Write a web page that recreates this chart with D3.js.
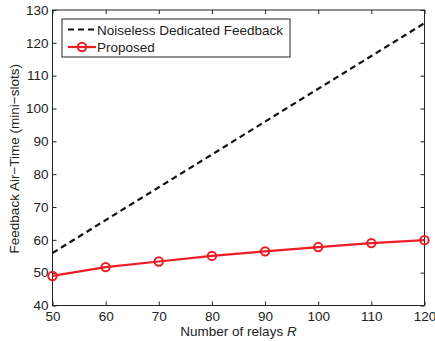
<!DOCTYPE html>
<html>
<head>
<meta charset="utf-8">
<script src="https://cdn.jsdelivr.net/npm/d3@7"></script>
<style>
  body { margin: 0; background: #fff; }
  svg { display: block; font-family: "Liberation Sans", Arial, sans-serif; }
</style>
</head>
<body>
<div id="chart"></div>
<script>
// relay counts on the x axis
const relays = [50, 60, 70, 80, 90, 100, 110, 120];
// noiseless dedicated feedback air-time
const dedicated = [56, 66, 76, 86, 96, 106, 116, 126];
// proposed scheme air-time
const proposed = [49.0, 51.7, 53.4, 55.1, 56.5, 57.8, 59.0, 59.9];

const x_ticks = [50, 60, 70, 80, 90, 100, 110, 120];
const y_ticks = [40, 50, 60, 70, 80, 90, 100, 110, 120, 130];

const svg_width = 435, svg_height = 341;
const margin = {left: 52.5, right: 10.5, top: 10, bottom: 35.5};
const plot_width = svg_width - margin.left - margin.right;
const plot_height = svg_height - margin.top - margin.bottom;
const axes_color = '#222';
const red = '#ee1c24';

const svg = d3.select('#chart').append('svg')
    .attr('width', svg_width)
    .attr('height', svg_height);

const g = svg.append('g')
    .attr('transform', `translate(${margin.left},${margin.top})`);

const x_scale = d3.scaleLinear().domain([50, 120]).range([0, plot_width]);
const y_scale = d3.scaleLinear().domain([40, 130]).range([plot_height, 0]);

// axes with inward ticks, MATLAB box style
const tick_len = 4;
const style_axis = sel => {
    sel.select('.domain').remove();
    sel.selectAll('line').style('stroke', axes_color);
    sel.selectAll('text').style('fill', axes_color).style('font-size', '13.5px')
        .style('font-family', '"Liberation Sans", Arial, sans-serif');
};

g.append('g')
    .attr('transform', `translate(0,${plot_height})`)
    .call(d3.axisBottom(x_scale).tickValues(x_ticks).tickSizeInner(-tick_len).tickSizeOuter(0).tickPadding(5.5))
    .call(style_axis);

g.append('g')
    .call(d3.axisLeft(y_scale).tickValues(y_ticks).tickSizeInner(-tick_len).tickSizeOuter(0).tickPadding(4))
    .call(style_axis);

g.append('g')
    .call(d3.axisTop(x_scale).tickValues(x_ticks).tickSizeInner(-tick_len).tickSizeOuter(0).tickFormat(''))
    .call(style_axis);

g.append('g')
    .attr('transform', `translate(${plot_width},0)`)
    .call(d3.axisRight(y_scale).tickValues(y_ticks).tickSizeInner(-tick_len).tickSizeOuter(0).tickFormat(''))
    .call(style_axis);

g.append('rect')
    .attr('width', plot_width)
    .attr('height', plot_height)
    .attr('fill', 'none')
    .attr('stroke', axes_color)
    .attr('stroke-width', 1);

// lines
const line = d3.line().x(d => x_scale(d[0])).y(d => y_scale(d[1]));

g.append('path')
    .datum(relays.map((r, i) => [r, dedicated[i]]))
    .attr('d', line)
    .attr('fill', 'none')
    .attr('stroke', '#111')
    .attr('stroke-width', 2.2)
    .attr('stroke-dasharray', '6,4');

g.append('path')
    .datum(relays.map((r, i) => [r, proposed[i]]))
    .attr('d', line)
    .attr('fill', 'none')
    .attr('stroke', red)
    .attr('stroke-width', 2.2);

g.selectAll('circle.pt')
    .data(relays.map((r, i) => [r, proposed[i]]))
    .enter()
    .append('circle')
    .attr('class', 'pt')
    .attr('cx', d => x_scale(d[0]))
    .attr('cy', d => y_scale(d[1]))
    .attr('r', 4.2)
    .attr('fill', 'none')
    .attr('stroke', red)
    .attr('stroke-width', 2);

// legend
const legend = svg.append('g').attr('transform', 'translate(62,19)');
legend.append('rect')
    .attr('width', 228)
    .attr('height', 38)
    .attr('fill', '#fff')
    .attr('stroke', axes_color)
    .attr('stroke-width', 1);

legend.append('line')
    .attr('x1', 6).attr('x2', 34).attr('y1', 10.5).attr('y2', 10.5)
    .attr('stroke', '#111').attr('stroke-width', 2.2).attr('stroke-dasharray', '6,4');
legend.append('text')
    .attr('x', 35).attr('y', 15.5)
    .style('font-size', '13.5px').style('fill', axes_color)
    .text('Noiseless Dedicated Feedback');

legend.append('line')
    .attr('x1', 6).attr('x2', 34).attr('y1', 28).attr('y2', 28)
    .attr('stroke', red).attr('stroke-width', 2.2);
legend.append('circle')
    .attr('cx', 20).attr('cy', 28).attr('r', 4.2)
    .attr('fill', 'none').attr('stroke', red).attr('stroke-width', 2);
legend.append('text')
    .attr('x', 35).attr('y', 33)
    .style('font-size', '13.5px').style('fill', axes_color)
    .text('Proposed');

// axis labels
const xlab = svg.append('text')
    .attr('x', margin.left + plot_width / 2)
    .attr('y', 336)
    .style('text-anchor', 'middle')
    .style('font-size', '13.5px')
    .style('fill', axes_color);
xlab.append('tspan').text('Number of relays ');
xlab.append('tspan').style('font-style', 'italic').text('R');

svg.append('text')
    .attr('transform', `translate(19,${margin.top + plot_height / 2 + 1})rotate(-90)`)
    .style('text-anchor', 'middle')
    .style('font-size', '13.5px')
    .style('fill', axes_color)
    .text('Feedback Air\u2212Time (mini\u2212slots)');
</script>
</body>
</html>
